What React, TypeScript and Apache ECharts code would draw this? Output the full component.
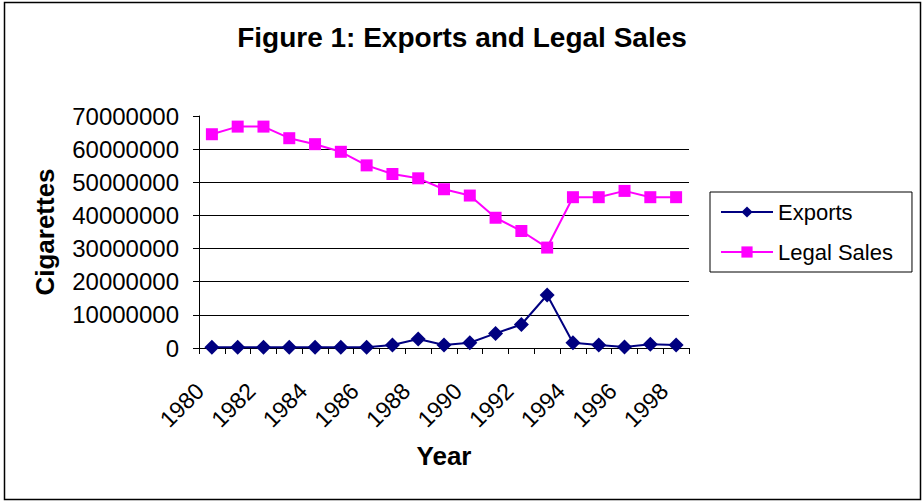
import React, { useEffect, useRef } from "react";
import * as echarts from "echarts";

const years = ["1980","1981","1982","1983","1984","1985","1986","1987","1988","1989","1990","1991","1992","1993","1994","1995","1996","1997","1998"];
const exportsData = [200000, 200000, 200000, 200000, 200000, 200000, 200000, 900000, 2700000, 900000, 1600000, 4400000, 7100000, 16000000, 1600000, 900000, 300000, 1100000, 900000];
const legalSales = [64500000, 66800000, 66800000, 63300000, 61500000, 59200000, 55100000, 52500000, 51200000, 47900000, 46000000, 39300000, 35300000, 30300000, 45500000, 45500000, 47400000, 45500000, 45500000];
const titleText = "Figure 1: Exports and Legal Sales";

const FONT = "Liberation Sans, Arial, sans-serif";

export default function App() {
  const ref = useRef<HTMLDivElement>(null);
  useEffect(() => {
    if (!ref.current) return;
    const chart = echarts.init(ref.current, null, { renderer: "svg" });
    chart.setOption({
      animation: false,
      backgroundColor: "#ffffff",
      title: {
        text: titleText,
        left: "center",
        top: 18,
        textStyle: { fontFamily: FONT, fontSize: 28, fontWeight: "bold", color: "#000" },
      },
      graphic: [
        {
          type: "rect",
          shape: { x: 4.5, y: 2.5, width: 916, height: 497 },
          style: { fill: "none", stroke: "#000", lineWidth: 1.5 },
          silent: true,
        },
      ],
      legend: {
        orient: "vertical",
        left: 710,
        top: 192,
        padding: [9, 19, 9, 10],
        itemWidth: 52,
        itemHeight: 14,
        itemGap: 18,
        borderColor: "#000",
        borderWidth: 1,
        textStyle: { fontFamily: FONT, fontSize: 22, color: "#000", lineHeight: 22 },
        data: ["Exports", "Legal Sales"],
      },
      grid: { left: 199, right: 235, top: 116, bottom: 154, containLabel: false },
      xAxis: {
        type: "category",
        data: years,
        boundaryGap: true,
        name: "Year",
        nameLocation: "middle",
        nameGap: 95,
        nameMoveOverlap: false,
        nameTextStyle: { fontFamily: FONT, fontSize: 26, fontWeight: "bold", color: "#000" },
        axisLine: { lineStyle: { color: "#000", width: 1 } },
        axisTick: { show: true, interval: 0, length: 6, lineStyle: { color: "#000" } },
        axisLabel: {
          interval: 1,
          rotate: 45,
          margin: 27,
          padding: [0, 17, 0, 0],
          fontFamily: FONT,
          fontSize: 23,
          color: "#000",
        },
        splitLine: { show: false },
      },
      yAxis: {
        type: "value",
        min: 0,
        max: 70000000,
        interval: 10000000,
        name: "Cigarettes",
        nameLocation: "middle",
        nameRotate: 90,
        nameGap: 141,
        nameMoveOverlap: false,
        nameTextStyle: { fontFamily: FONT, fontSize: 26, fontWeight: "bold", color: "#000" },
        axisLine: { show: true, lineStyle: { color: "#000", width: 1 } },
        axisTick: { show: true, length: 6, lineStyle: { color: "#000" } },
        axisLabel: {
          margin: 20,
          fontFamily: FONT,
          fontSize: 24,
          color: "#000",
          formatter: (v: number) => String(v),
        },
        splitLine: { show: true, showMaxLine: false, showMinLine: false, lineStyle: { color: "#000", width: 1 } },
      },
      series: [
        {
          name: "Exports",
          type: "line",
          data: exportsData,
          symbol: "diamond",
          symbolSize: 15,
          lineStyle: { color: "#000080", width: 2 },
          itemStyle: { color: "#000080" },
        },
        {
          name: "Legal Sales",
          type: "line",
          data: legalSales,
          symbol: "rect",
          symbolSize: 12,
          lineStyle: { color: "#FF00FF", width: 2 },
          itemStyle: { color: "#FF00FF" },
        },
      ],
    });
    return () => chart.dispose();
  }, []);
  return <div ref={ref} style={{ position: "absolute", left: 0, top: 0, width: 924, height: 502 }} />;
}
